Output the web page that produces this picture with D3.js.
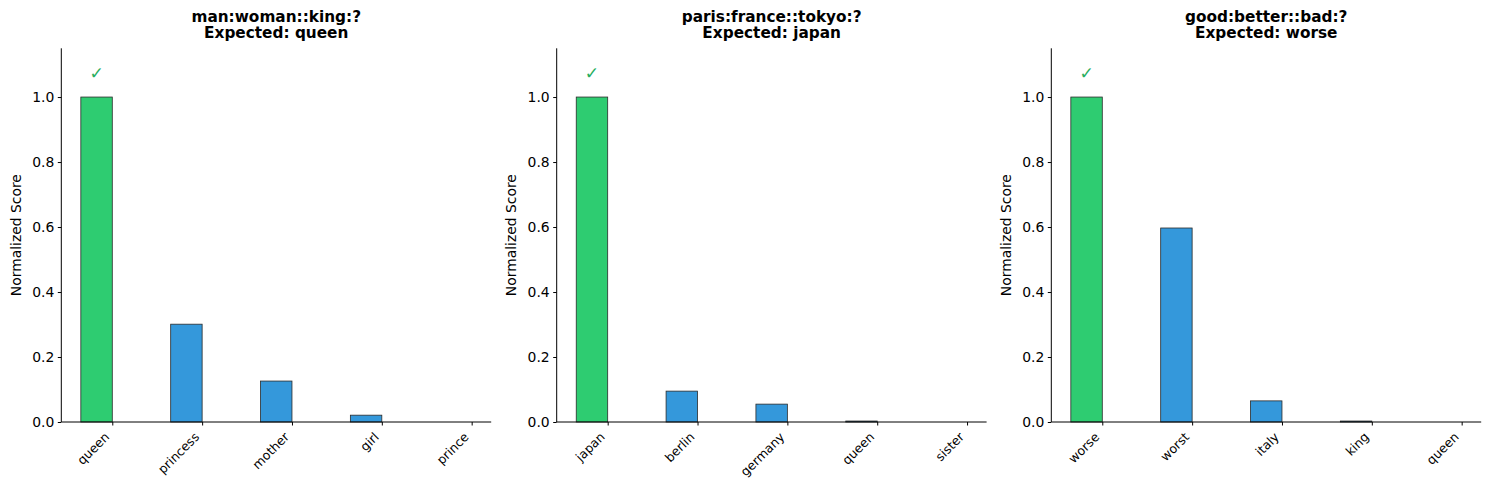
<!DOCTYPE html>
<html>
<head>
<meta charset="utf-8">
<script src="https://cdn.jsdelivr.net/npm/d3@7/dist/d3.min.js"></script>
<style>
  body { margin: 0; background: #fff; }
  svg { font-family: "DejaVu Sans", sans-serif; }
</style>
</head>
<body>
<svg width="1490" height="490"></svg>
<script>
// one analogy per panel
const titles = ['man:woman::king:?', 'paris:france::tokyo:?', 'good:better::bad:?'];
const expected = ['queen', 'japan', 'worse'];

const words1 = ['queen', 'princess', 'mother', 'girl', 'prince'];
const scores1 = [1.0, 0.301, 0.126, 0.021, 0.0];

const words2 = ['japan', 'berlin', 'germany', 'queen', 'sister'];
const scores2 = [1.0, 0.095, 0.055, 0.003, 0.0];

const words3 = ['worse', 'worst', 'italy', 'king', 'queen'];
const scores3 = [1.0, 0.597, 0.065, 0.003, 0.0];

const yTicks = [0.0, 0.2, 0.4, 0.6, 0.8, 1.0];

const panels = [
  { words: words1, scores: scores1 },
  { words: words2, scores: scores2 },
  { words: words3, scores: scores3 }
];

const svg = d3.select('svg');
const W = 429.9, plotTop = 48.3, plotBottom = 422;
const lefts = [61.3, 556.7, 1051.3];
const barW = 0.35;

panels.forEach((p, k) => {
  const g = svg.append('g').attr('transform', `translate(${lefts[k]},0)`);

  // bars sit left of their tick (center at i - w/2), matplotlib margins
  const x = d3.scaleLinear().domain([-barW - 0.2175, p.words.length - 1 + 0.2175]).range([0, W]);
  const y = d3.scaleLinear().domain([0, 1.15]).range([plotBottom, plotTop]);

  g.selectAll('rect')
    .data(p.scores)
    .enter()
    .append('rect')
    .attr('x', (_, i) => x(i - barW))
    .attr('width', x(barW) - x(0))
    .attr('y', d => y(d))
    .attr('height', d => y(0) - y(d))
    .attr('fill', (_, i) => p.words[i] === expected[k] ? '#2ecc71' : '#3498db')
    .attr('stroke', '#2b2b2b')
    .attr('stroke-width', 0.8);

  // check mark over the expected word
  p.words.forEach((w, i) => {
    if (w === expected[k]) {
      g.append('text')
        .attr('x', x(i - barW / 2))
        .attr('y', y(1.05) - 1.5)
        .attr('text-anchor', 'middle')
        .attr('font-size', 17)
        .attr('fill', '#27ae60')
        .text('\u2713');
    }
  });

  // y axis
  const yAxis = d3.axisLeft(y).tickValues(yTicks).tickFormat(d3.format('.1f')).tickSize(3.5).tickPadding(3.5);
  const ya = g.append('g').call(yAxis);
  ya.select('.domain').attr('d', `M0,${plotTop}V${plotBottom}`).attr('stroke-width', 1);
  ya.selectAll('.tick line').attr('stroke-width', 1);
  ya.selectAll('.tick text').attr('font-size', 13.9).attr('font-family', 'DejaVu Sans').attr('fill', '#000');

  // x axis
  const xAxis = d3.axisBottom(x).tickValues(d3.range(p.words.length)).tickFormat('').tickSize(3.5);
  const xa = g.append('g').attr('transform', `translate(0,${plotBottom})`).call(xAxis);
  xa.select('.domain').attr('d', `M0,0H${W}`).attr('stroke-width', 1);
  xa.selectAll('.tick line').attr('stroke-width', 1);

  const fs = 12.5;
  g.selectAll('.xlab')
    .data(p.words)
    .enter()
    .append('text')
    .attr('class', 'xlab')
    .attr('font-size', fs)
    .attr('text-anchor', 'end')
    .attr('transform', (_, i) => `translate(${x(i) - 0.707 * 0.24 * fs},${plotBottom + 9 + 0.707 * 0.76 * fs}) rotate(-45)`)
    .text(d => d);

  // y label
  g.append('text')
    .attr('transform', `translate(-40.8,${(plotTop + plotBottom) / 2}) rotate(-90)`)
    .attr('text-anchor', 'middle')
    .attr('font-size', 13.9)
    .text('Normalized Score');

  // title
  const t = g.append('text')
    .attr('text-anchor', 'middle')
    .attr('font-size', 15.3)
    .attr('font-weight', 'bold');
  t.append('tspan').attr('x', W / 2).attr('y', 22).text(titles[k]);
  t.append('tspan').attr('x', W / 2).attr('y', 38).text('Expected: ' + expected[k]);
});
</script>
</body>
</html>
